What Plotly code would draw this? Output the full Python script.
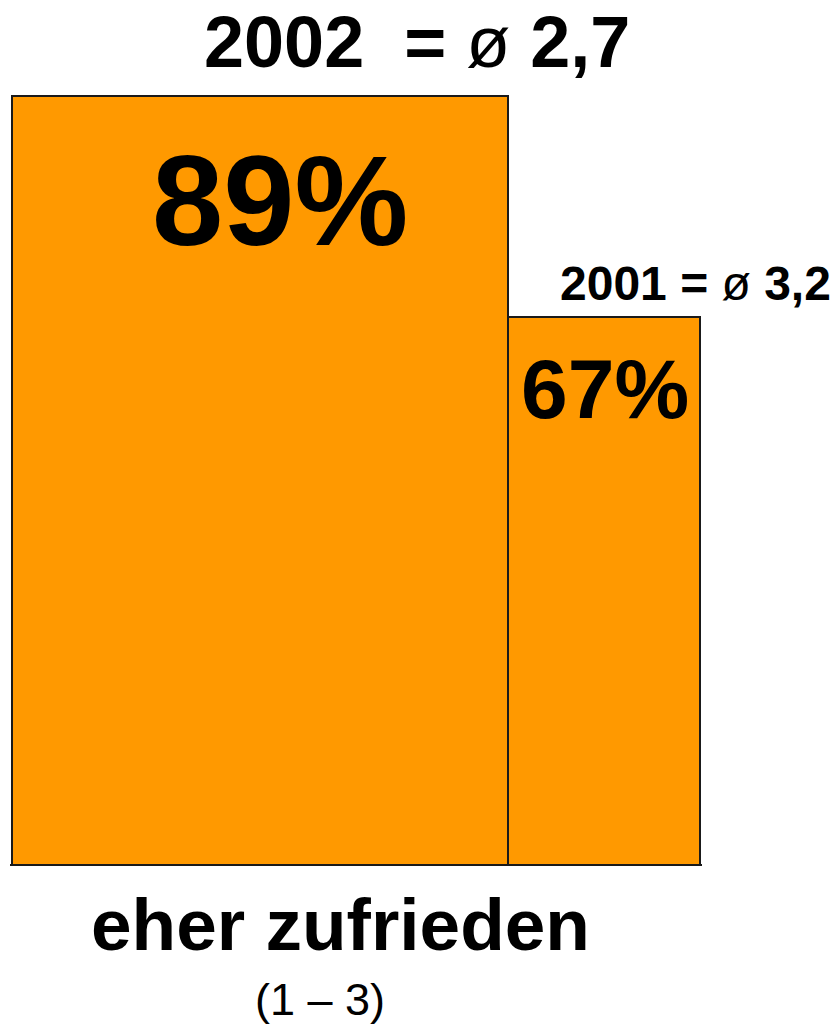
import plotly.graph_objects as go

# Survey result: share "eher zufrieden" (scale points 1-3) and mean score per year
years = ["2002", "2001"]
shares = [89, 67]
averages = ["2,7", "3,2"]
category_label = "eher zufrieden"
scale_label = "(1 \u2013 3)"

W, H = 836, 1024
PAD_PX = 2  # room so the outer bar outlines are not clipped
LEFT, RIGHT, BOTTOM = 12 - PAD_PX, 136 - PAD_PX, 160
PLOT_W = W - LEFT - RIGHT
PLOT_H = H - BOTTOM

# bar widths in category units (adjacent bars, wide 2002 bar next to narrow 2001 bar)
widths = [1.4419, 0.5581]
UNIT_PX = (PLOT_W - 2 * PAD_PX) / (widths[0] / 2 + 1 + widths[1] / 2)
EDGE_PAD = PAD_PX / UNIT_PX

ORANGE = "#FF9900"
OUTLINE = "#1a1a1a"
FONT = "Liberation Sans, Arial, sans-serif"


def px_x(px):
    return (px - LEFT) / PLOT_W


def px_y(py):
    return (PLOT_H - py) / PLOT_H


fig = go.Figure(
    go.Bar(
        x=years,
        y=shares,
        width=widths,
        marker=dict(color=ORANGE, line=dict(color=OUTLINE, width=2)),
        hoverinfo="skip",
    )
)

nb = "\u00a0"
annotations = [
    # headline for 2002 above the wide bar
    dict(
        text=f"<b>{years[0]}</b>{nb}{nb}<b>=</b> \u00f8 <b>{averages[0]}</b>",
        x=px_x(417), y=px_y(42), font=dict(size=72),
    ),
    dict(text=f"<b>{shares[0]}%</b>", x=px_x(280), y=px_y(201), font=dict(size=128)),
    # headline for 2001 above the narrow bar
    dict(
        text=f"<b>{years[1]}</b> <b>=</b> \u00f8 <b>{averages[1]}</b>",
        x=px_x(695), y=px_y(283), font=dict(size=48),
    ),
    dict(text=f"<b>{shares[1]}%</b>", x=px_x(605), y=px_y(389), font=dict(size=84)),
    # category caption below the bars
    dict(text=f"<b>{category_label}</b>", x=px_x(340), y=px_y(924), font=dict(size=73)),
    dict(text=scale_label, x=px_x(320), y=px_y(999), font=dict(size=45)),
]
for a in annotations:
    a.update(xref="paper", yref="paper", xanchor="center", yanchor="middle",
             showarrow=False)
    a["font"].update(family=FONT, color="black")

fig.update_layout(
    width=W,
    height=H,
    margin=dict(l=LEFT, r=RIGHT, t=0, b=BOTTOM, pad=0),
    paper_bgcolor="white",
    plot_bgcolor="white",
    showlegend=False,
    bargap=0,
    annotations=annotations,
    xaxis=dict(
        type="category",
        range=[-widths[0] / 2 - EDGE_PAD, 1 + widths[1] / 2 + EDGE_PAD],
        showticklabels=False,
        ticks="",
        showgrid=False,
        zeroline=False,
        # baseline closing the bars at the bottom
        showline=True,
        linecolor=OUTLINE,
        linewidth=2,
        fixedrange=True,
    ),
    yaxis=dict(
        range=[12.55, 98.56],
        visible=False,
        fixedrange=True,
    ),
)

fig.write_html("out.html", config={"displayModeBar": False})
